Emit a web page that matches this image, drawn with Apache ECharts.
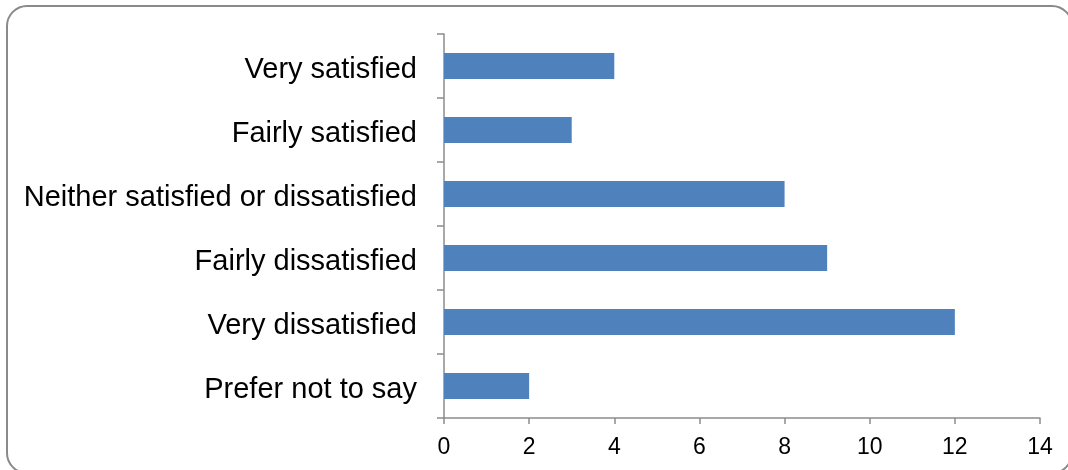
<!DOCTYPE html>
<html>
<head>
<meta charset="utf-8">
<script src="https://cdn.jsdelivr.net/npm/echarts@6/dist/echarts.min.js"></script>
<style>
  html, body { margin: 0; padding: 0; background: #fff; }
  #chart { width: 1068px; height: 470px; }
</style>
</head>
<body>
<div id="chart"></div>
<script>
// Survey responses: satisfaction levels and counts
const categories = [
  'Very satisfied',
  'Fairly satisfied',
  'Neither satisfied or dissatisfied',
  'Fairly dissatisfied',
  'Very dissatisfied',
  'Prefer not to say'
];
const counts = [4, 3, 8, 9, 12, 2];
const xTicks = [0, 2, 4, 6, 8, 10, 12, 14];

const axisGrey = '#8c8c8c';
const font = 'Liberation Sans, Arial, sans-serif';
const chart = echarts.init(document.getElementById('chart'), null, { renderer: 'canvas' });

chart.setOption({
  animation: false,
  backgroundColor: '#ffffff',
  textStyle: { fontFamily: font },
  graphic: [{
    type: 'rect',
    shape: { x: 7, y: 6, width: 1065, height: 467, r: 20 },
    style: { fill: 'none', stroke: '#8a8a8a', lineWidth: 2 },
    silent: true,
    z: -1
  }],
  grid: { left: 444, top: 34, right: 28, bottom: 52, containLabel: false },
  xAxis: {
    type: 'value',
    min: xTicks[0],
    max: xTicks[xTicks.length - 1],
    interval: 2,
    splitLine: { show: false },
    axisLine: { show: true, lineStyle: { color: axisGrey, width: 1.5 } },
    axisTick: { show: true, length: 6, lineStyle: { color: axisGrey, width: 1.5 } },
    axisLabel: { color: '#000', fontSize: 23, margin: 18, fontFamily: font }
  },
  yAxis: {
    type: 'category',
    data: categories,
    inverse: true,
    axisLine: { show: true, lineStyle: { color: axisGrey, width: 1.5 } },
    axisTick: { show: true, length: 7, alignWithLabel: false, lineStyle: { color: axisGrey, width: 1.5 } },
    axisLabel: {
      margin: 27,
      formatter: v => '{a|' + v + '}',
      rich: {
        a: { color: '#000', fontSize: 29, fontFamily: font, padding: [8, 0, 0, 0] }
      }
    }
  },
  series: [{
    type: 'bar',
    data: counts,
    barWidth: 26,
    itemStyle: { color: '#4f81bd' }
  }]
});
</script>
</body>
</html>
